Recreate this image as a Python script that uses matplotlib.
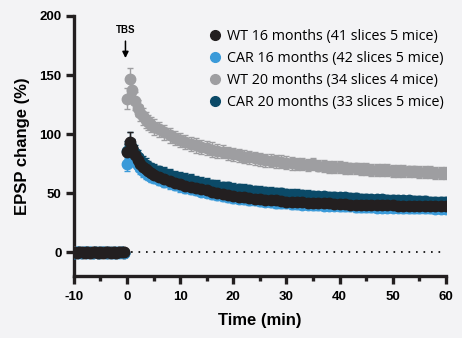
import matplotlib
matplotlib.use("Agg")
import matplotlib.pyplot as plt
from matplotlib.lines import Line2D
import numpy as np

plt.rcParams["axes.unicode_minus"] = False

# time grid (min): baseline every 30 s, post-TBS every 30 s for 5 min then every min
t_base = np.arange(-10, 0, 0.5)
t_post = np.concatenate([np.arange(0, 5.5, 0.5), np.arange(6, 61, 1)])

labels = ["WT 16 months (41 slices 5 mice)",
          "CAR 16 months (42 slices 5 mice)",
          "WT 20 months (34 slices 4 mice)",
          "CAR 20 months (33 slices 5 mice)"]
colors = ["#231f20", "#3a9ad9", "#9e9ea1", "#0b4a68"]

# baseline (%), 20 points each
wt16_base = [0.5, -0.3, 0.2, 0.4, -0.2, 0.1, -0.4, 0.3, 0.0, -0.1,
             0.2, -0.3, 0.4, 0.1, -0.2, 0.3, -0.1, 0.2, 0.0, 0.1]
car16_base = [-0.4, 0.3, -0.2, 0.1, 0.5, -0.3, 0.2, -0.5, 0.4, -0.2,
              0.1, 0.3, -0.4, 0.2, -0.1, -0.3, 0.4, -0.2, 0.3, -0.1]
wt20_base = [0.2, -0.1, 0.3, -0.2, 0.1, 0.2, -0.3, 0.1, 0.2, -0.1,
             0.0, 0.2, -0.2, 0.1, 0.3, -0.1, 0.1, 0.0, -0.2, 0.1]
car20_base = [-0.2, 0.2, 0.1, -0.3, 0.2, 0.0, 0.3, -0.2, 0.1, 0.2,
              -0.1, 0.0, 0.2, -0.3, 0.1, 0.2, -0.2, 0.1, 0.0, -0.1]

# post-TBS EPSP change (%)
wt16 = [85, 93, 88, 82, 78, 75, 72.5, 70.5, 68.5, 67, 65.5,
        63.5, 62, 60.5, 59, 58, 56.5, 55.5, 54.5, 53.5, 52.5, 51.5, 50.5, 49.5, 48.5,
        47.5, 47, 46.5, 46, 45.5, 45, 44.5, 44, 44, 43.5, 43, 43, 42.5, 42.5, 42,
        42, 41.5, 41.5, 41.5, 41, 41, 41, 40.5, 40.5, 40.5, 40.5, 40, 40, 40, 40,
        40, 39.5, 39.5, 39.5, 39.5, 39.5, 39.5, 39, 39, 39, 39]
car16 = [75, 80, 82, 78, 74, 71, 69, 67, 65.5, 64, 63,
         61.5, 60, 58.5, 57, 56, 54.5, 53.5, 52.5, 51.5, 50.5, 49.5, 48.5, 47.5, 46.5,
         46, 45.5, 45, 44.5, 44, 43.5, 43, 42.5, 42, 42, 41.5, 41, 41, 40.5, 40.5,
         40, 40, 39.5, 39.5, 39.5, 39, 39, 39, 38.5, 38.5, 38.5, 38.5, 38, 38, 38,
         38, 38, 37.5, 37.5, 37.5, 37.5, 37.5, 37.5, 37, 37, 37]
wt20 = [130, 147, 137, 128, 122, 118, 115, 112, 110, 108, 106,
        104, 101.5, 99, 97, 95, 93.5, 92, 90.5, 89, 88, 87, 86, 85, 84,
        83, 82, 81, 80.5, 79.5, 79, 78, 77.5, 77, 76.5, 76, 75.5, 75, 74.5, 74,
        74.5, 73.5, 73, 72.5, 72, 72, 71.5, 71, 71, 70.5, 70.5, 70, 70, 69.5, 69.5,
        69, 69, 69, 68.5, 68.5, 68, 68, 68, 67.5, 67.5, 67.5]
car20 = [86, 92, 88, 84, 81, 78, 76, 74, 72.5, 71, 70,
         68.5, 67, 65.5, 64, 63, 62, 61, 60, 59, 58, 57, 56.5, 55.5, 55,
         54, 53.5, 53, 52.5, 52, 51.5, 51, 50.5, 50, 50, 49.5, 49, 49, 48.5, 48,
         48, 47.5, 47.5, 47, 47, 46.5, 46.5, 46, 46, 45.5, 45.5, 45, 45, 45, 44.5,
         44.5, 44, 44, 44, 43.5, 43.5, 43.5, 43, 43, 43, 42.5]

# SEM (%)
wt16_err = [7, 9, 7, 6, 5.5, 5.5, 5, 5, 5, 5, 5,
            5, 5, 4.5, 4.5, 4.5, 4.5, 4.5, 4.5, 4.5, 4.5, 4, 4, 4, 4,
            4, 4, 4, 4, 4, 4, 4, 4, 4, 4, 3.5, 3.5, 3.5, 3.5, 3.5,
            3.5, 3.5, 3.5, 3.5, 3.5, 3.5, 3.5, 3.5, 3.5, 3.5, 3.5, 3.5, 3.5, 3.5, 3.5,
            3.5, 3.5, 3.5, 3.5, 3.5, 3.5, 3.5, 3.5, 3.5, 3.5, 3.5]
car16_err = [6, 7, 6, 5.5, 5, 5, 5, 5, 4.5, 4.5, 4.5,
             4.5, 4.5, 4.5, 4.5, 4.5, 4, 4, 4, 4, 4, 4, 4, 4, 4,
             4, 4, 4, 4, 4, 4, 4, 4, 4, 4, 4, 4, 4, 4, 4,
             4, 4, 4, 4, 4, 4, 4, 4, 4, 4, 4, 4, 4, 4, 4,
             4, 4, 4, 4, 4, 4, 4, 4, 4, 4, 4]
wt20_err = [9, 9, 8, 7.5, 7, 7, 7, 6.5, 6.5, 6.5, 6.5,
            6.5, 6.5, 6.5, 6, 6, 6, 6, 6, 6, 6, 6, 6, 5.5, 5.5,
            5.5, 5.5, 5.5, 5.5, 5.5, 5.5, 5.5, 5.5, 5.5, 5.5, 5.5, 5.5, 5, 5, 5,
            5, 5, 5, 5, 5, 5, 5, 5, 5, 5, 5, 5, 5, 5, 5,
            5, 5, 5, 5, 5, 5, 5, 5, 5, 5, 5]
car20_err = [8, 10, 8, 6.5, 6, 5.5, 5.5, 5.5, 5, 5, 5,
             5, 5, 5, 5, 5, 5, 5, 5, 5, 5, 4.5, 4.5, 4.5, 4.5,
             4.5, 4.5, 4.5, 4.5, 4.5, 4.5, 4.5, 4.5, 4.5, 4.5, 4.5, 4.5, 4.5, 4.5, 4.5,
             4, 4, 4, 4, 4, 4, 4, 4, 4, 4, 4, 4, 4, 4, 4,
             4, 4, 4, 4, 4, 4, 4, 4, 4, 4, 4]

base_err = 1.2
bg = "#f3f3f5"

fig = plt.figure(figsize=(4.62, 3.38), dpi=100, facecolor=bg)
ax = fig.add_axes([0.16, 0.183, 0.805, 0.77], facecolor=bg)

series = [
    (wt20_base, wt20, wt20_err, colors[2]),
    (car20_base, car20, car20_err, colors[3]),
    (car16_base, car16, car16_err, colors[1]),
    (wt16_base, wt16, wt16_err, colors[0]),
]
for base, post, err, c in series:
    t = np.concatenate([t_base, t_post])
    y = np.concatenate([base, post])
    e = np.concatenate([np.full(len(base), base_err), err])
    ax.errorbar(t, y, yerr=e, fmt="o", ms=7.5, color=c, mec=c, ecolor=c,
                elinewidth=1, capsize=2.5, capthick=1, zorder=3)

# zero reference line
ax.plot([0.8, 60], [0, 0], color="black", lw=1.2, ls=(0, (1, 3.5)), zorder=1)

# TBS marker
ax.annotate("", xy=(-0.3, 162), xytext=(-0.3, 181),
            arrowprops=dict(arrowstyle="-|>", color="black", lw=1.1,
                            mutation_scale=9))
ax.text(-0.3, 188, "TBS", ha="center", va="center", fontsize=7,
        fontweight="bold", family="Liberation Sans")

ax.set_xlim(-10, 60)
ax.set_ylim(-20, 200)
ax.set_xticks(np.arange(-10, 61, 10))
ax.set_xticks(np.arange(-5, 60, 10), minor=True)
ax.set_yticks([0, 50, 100, 150, 200])

for s in ["top", "right"]:
    ax.spines[s].set_visible(False)
for s in ["left", "bottom"]:
    ax.spines[s].set_linewidth(2.4)
    ax.spines[s].set_color("#231f20")

ax.tick_params(axis="both", which="major", length=6, width=2.4, color="#231f20",
               labelsize=9.5, pad=3)
ax.tick_params(axis="x", which="major", pad=5)
ax.tick_params(axis="x", which="minor", length=3.5, width=2.4, color="#231f20")
for lab in ax.get_xticklabels() + ax.get_yticklabels():
    lab.set_fontweight("bold")
    lab.set_family("Liberation Sans")

ax.set_xlabel("Time (min)", fontsize=12, fontweight="bold",
              family="Liberation Sans", labelpad=7)
ax.set_ylabel("EPSP change (%)", fontsize=12, fontweight="bold",
              family="Liberation Sans", labelpad=7)

handles = [Line2D([], [], ls="none", marker="o", ms=7, color=c) for c in colors]
ax.legend(handles, labels, loc="upper right", bbox_to_anchor=(1.03, 1.0),
          frameon=False, handlelength=0.8, handletextpad=0.45, labelspacing=0.5,
          prop={"family": "Open Sans", "size": 10.3})

fig.savefig("out.png", dpi=100, facecolor=bg)
